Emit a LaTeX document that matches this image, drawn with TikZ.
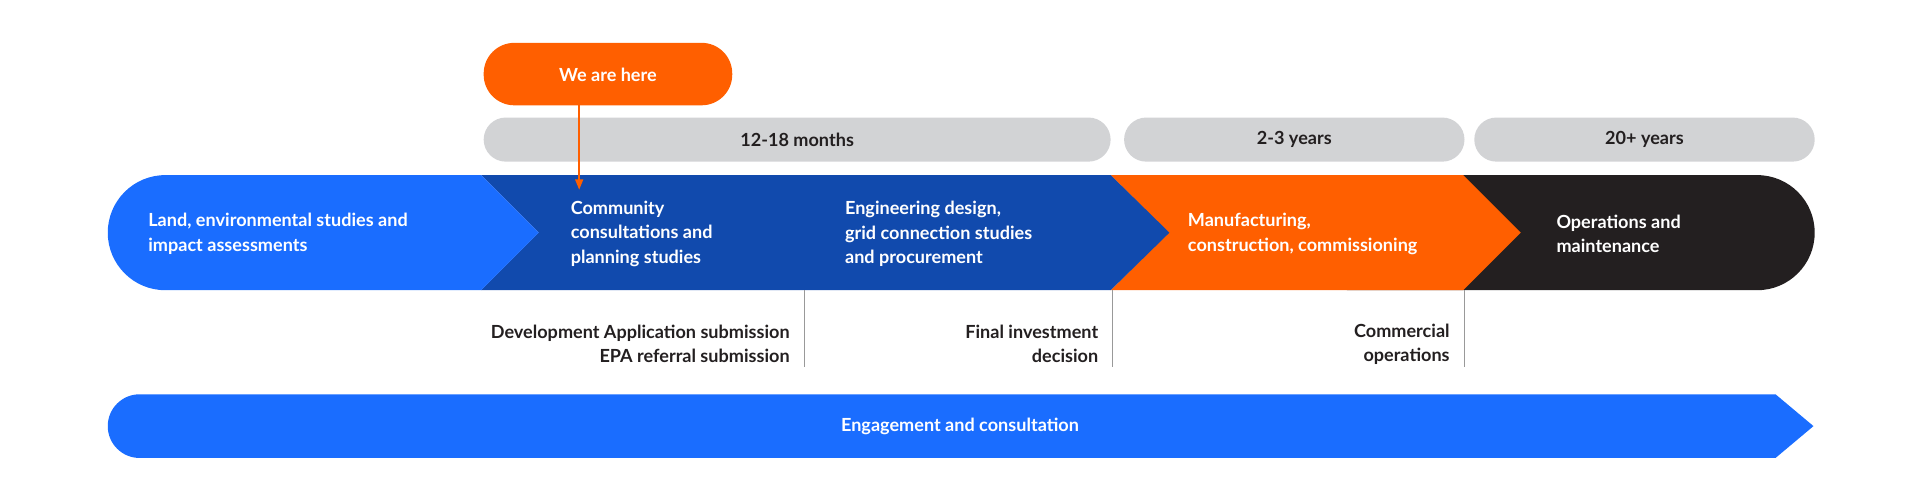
\documentclass[tikz,border=0pt]{standalone}
\usepackage{fontspec}
\setmainfont{Lato}
\usetikzlibrary{arrows.meta}
\definecolor{lblue}{HTML}{1A6DFF}
\definecolor{dblue}{HTML}{114AAD}
\definecolor{orng}{HTML}{FF5F00}
\definecolor{blk}{HTML}{231F20}
\definecolor{gry}{HTML}{D2D3D5}
\definecolor{txt}{HTML}{231F20}
\tikzset{
 lbl/.style={font=\bfseries\fontsize{21}{28.5}\selectfont, text=white, align=left, anchor=west, inner sep=0},
 dlbl/.style={font=\bfseries\fontsize{21}{28.5}\selectfont, text=txt, align=right, anchor=east, inner sep=0},
 pill/.style={fill=gry, rounded corners=18*0.05cm},
 mline/.style={draw=gray!80, line width=0.8pt}
}
\begin{document}
\begin{tikzpicture}[x=0.05cm,y=-0.05cm]
\useasboundingbox (0,0) rectangle (1568,410);
% we are here
\fill[orng, rounded corners=25*0.05cm] (395,35) rectangle (598,86);
\node[lbl, anchor=center] (here) at (496.5,61) {We are here};
% pills
\fill[pill] (395,96) rectangle (907,132);
\fill[pill] (918,96) rectangle (1196,132);
\fill[pill] (1204,96) rectangle (1482,132);
\node[dlbl, anchor=center] (p1) at (651,114) {12-18 months};
\node[dlbl, anchor=center] (p2) at (1057,114) {2-3 years};
\node[dlbl, anchor=center] (p3) at (1343,114) {20+ years};
% band
\fill[blk] (1100,143) -- (1435,143) arc[start angle=90,end angle=-90,x radius=47,y radius=-47] -- (1100,237) -- cycle;
\fill[orng] (907,143) -- (1195,143) -- (1242,190) -- (1195,237) -- (907,237) -- (954,190) -- cycle;
\fill[dblue] (393,143) -- (907,143) -- (955,190) -- (907,237) -- (393,237) -- (440,190) -- cycle;
\fill[lblue] (393,143) -- (440,190) -- (393,237) -- (135,237) arc[start angle=270,end angle=90,x radius=47,y radius=-47] -- cycle;
% arrow
\coordinate (tip) at (473,155);
\draw[orng, line width=2.2pt, -{Triangle[length=12pt,width=9pt]}] (here.south -| tip) ++(0,7) -- (tip);
% band labels
\node[lbl] (s1) at (121,191) {Land, environmental studies and\\impact assessments};
\node[lbl] (s2) at (466,191) {Community\\consultations and\\planning studies};
\node[lbl] (s3) at (690,191) {Engineering design,\\grid connection studies\\and procurement};
\node[lbl] (s4) at (970,191) {Manufacturing,\\construction, commissioning};
\node[lbl] (s5) at (1271,191) {Operations and\\maintenance};
% milestones
\foreach \x/\n in {657/a,908/b,1196/c}{
 \coordinate (\n1) at (\x,237); \coordinate (\n2) at (\x,300);
 \draw[mline] (\n1) -- (\n2);}
\node[dlbl] (m1) at (645,281) {Development Application submission\\EPA referral submission};
\node[dlbl] (m2) at (897,281) {Final investment\\decision};
\node[dlbl] (m3) at (1184,281) {Commercial\\operations};
% bottom arrow
\fill[lblue] (114,322) -- (1450,322) -- (1481,348) -- (1450,374) -- (114,374) arc[start angle=270,end angle=90,x radius=26,y radius=-26] -- cycle;
\node[lbl, anchor=center] (eng) at (784,348) {Engagement and consultation};
\end{tikzpicture}
\end{document}
